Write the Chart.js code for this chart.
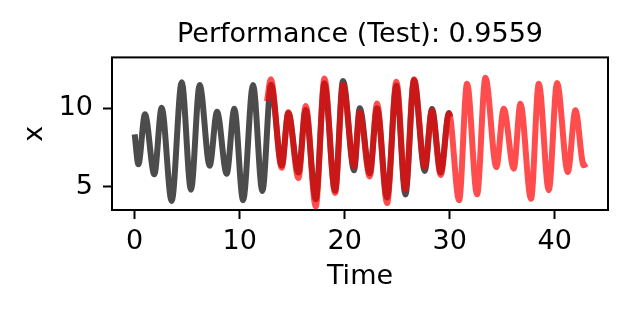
<!DOCTYPE html>
<html>
<head>
<meta charset="utf-8">
<script src="https://cdn.jsdelivr.net/npm/chart.js@4/dist/chart.umd.min.js"></script>
<style>
  html, body { margin: 0; padding: 0; background: #fff; }
  #wrap { width: 628px; height: 315px; }
</style>
</head>
<body>
<div id="wrap"><canvas id="perfChart" width="628" height="315"></canvas></div>
<script>
const actualTime = [0, 0.35, 0.98, 1.87, 2.57, 3.52, 4.48, 5.36, 6.19, 7.14, 7.84, 8.76, 9.49,
  10.32, 11.27, 12.16, 12.98, 14.0, 14.63, 15.59, 16.29, 17.24, 18.07, 19.08, 19.84, 20.89,
  21.43, 22.38, 23.08, 24.03, 24.92, 25.78, 26.6, 27.62, 28.31, 29.14, 29.93, 30.05];
const actualX = [8.34, 6.43, 9.62, 5.79, 10.04, 4.08, 11.66, 4.81, 11.49, 6.34, 9.78, 5.83, 9.98,
  4.13, 11.49, 4.72, 11.5, 6.35, 9.7, 5.9, 9.9, 4.2, 11.6, 4.75, 11.75, 6.05,
  10.0, 5.85, 10.0, 4.3, 11.45, 4.5, 11.8, 6.0, 9.95, 5.9, 9.7, 9.45];

// Model prediction on the test range
const predTime = [12.6, 12.96, 14.0, 14.63, 15.59, 16.29, 17.24, 18.07, 19.08, 19.84, 20.89,
  21.43, 22.38, 23.08, 24.03, 24.92, 25.78, 26.6, 27.62, 28.31, 29.14, 29.93, 30.89, 31.65,
  32.6, 33.4, 34.44, 35.14, 36.1, 36.73, 37.74, 38.48, 39.43, 40.22, 41.24, 41.97, 42.76, 43.05];
const predX = [10.45, 11.85, 6.2, 9.75, 5.55, 10.15, 3.75, 11.9, 4.6, 11.5, 6.3,
  9.75, 5.65, 10.3, 3.95, 11.7, 4.8, 11.85, 6.25, 9.85, 5.75, 9.65, 4.13, 11.57,
  4.51, 11.95, 6.25, 9.97, 6.15, 10.29, 4.23, 11.57, 4.77, 11.61, 5.93, 9.87, 6.36, 6.48];

const xTicks = [0, 10, 20, 30, 40];
const yTicks = [5, 10];
const titleText = "Performance (Test): 0.9559";

const FONT = "'DejaVu Sans', sans-serif";
const FSIZE = 27;

const toPoints = (ts, vs) => ts.map((t, i) => ({ x: t, y: vs[i] }));

// box around the plot area, like matplotlib spines
const frame = {
  id: "frame",
  afterDatasetsDraw(chart) {
    const { ctx, chartArea: a } = chart;
    ctx.save();
    ctx.strokeStyle = "#000";
    ctx.lineWidth = 2;
    ctx.strokeRect(a.left, a.top, a.right - a.left, a.bottom - a.top);
    ctx.restore();
  },
};

const lineStyle = {
  borderWidth: 6,
  pointRadius: 0,
  fill: false,
  tension: 0.4,
  cubicInterpolationMode: "monotone",
  clip: 0,
  borderJoinStyle: "round",
};

new Chart(document.getElementById("perfChart"), {
  type: "line",
  data: {
    datasets: [
      { label: "prediction", data: toPoints(predTime, predX), borderColor: "rgba(255,0,0,0.7)", ...lineStyle },
      { label: "actual", data: toPoints(actualTime, actualX), borderColor: "rgba(0,0,0,0.7)", ...lineStyle },
    ],
  },
  options: {
    responsive: false,
    devicePixelRatio: 1,
    animation: false,
    layout: { padding: { left: 0, right: 20, top: 0, bottom: 0 } },
    plugins: {
      legend: { display: false },
      tooltip: { enabled: false },
      title: {
        display: true,
        fullSize: false,
        text: titleText,
        color: "#000",
        font: { family: FONT, size: FSIZE, weight: "normal" },
        padding: { top: 19, bottom: 6 },
      },
    },
    scales: {
      x: {
        type: "linear",
        min: -2.16,
        max: 45.07,
        afterFit: (s) => { s.height = 105; },
        afterBuildTicks: (s) => { s.ticks = xTicks.map((v) => ({ value: v })); },
        border: { display: false },
        grid: { drawOnChartArea: false, drawTicks: true, tickLength: 9, tickWidth: 2, tickColor: "#000" },
        ticks: { color: "#000", padding: 7, maxRotation: 0, font: { family: FONT, size: FSIZE } },
        title: { display: true, text: "Time", color: "#000", font: { family: FONT, size: FSIZE }, padding: { top: 0, bottom: 22 } },
      },
      y: {
        type: "linear",
        min: 3.51,
        max: 13.25,
        afterFit: (s) => { s.width = 112; },
        afterBuildTicks: (s) => { s.ticks = yTicks.map((v) => ({ value: v })); },
        border: { display: false },
        grid: { drawOnChartArea: false, drawTicks: true, tickLength: 9, tickWidth: 2, tickColor: "#000" },
        ticks: { color: "#000", padding: 10, font: { family: FONT, size: FSIZE } },
        title: { display: true, text: "x", color: "#000", font: { family: FONT, size: FSIZE }, padding: { top: 19, bottom: 0 } },
      },
    },
  },
  plugins: [frame],
});
</script>
</body>
</html>
